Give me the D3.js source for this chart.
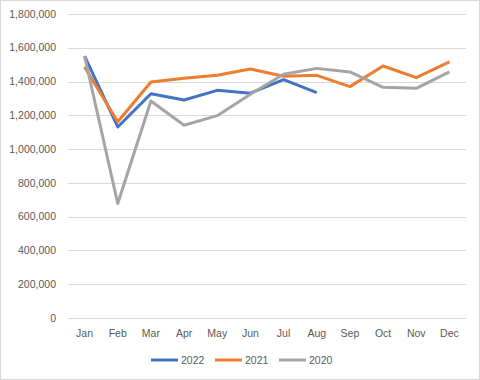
<!DOCTYPE html>
<html><head><meta charset="utf-8">
<script src="https://cdn.jsdelivr.net/npm/d3@7"></script>
<style>body{margin:0;background:#fff}svg{display:block}text{font-family:"Liberation Sans",Arial,sans-serif;fill:#595959}</style>
</head><body><svg id="c" width="480" height="380"></svg>
<script>
const months = ["Jan","Feb","Mar","Apr","May","Jun","Jul","Aug","Sep","Oct","Nov","Dec"];
const s2022 = [1551000,1131000,1328000,1291000,1348000,1331000,1411000,1334000];
const s2021 = [1486000,1162000,1397000,1419000,1437000,1474000,1431000,1437000,1370000,1492000,1423000,1516000];
const s2020 = [1551000,678000,1285000,1141000,1198000,1325000,1443000,1478000,1457000,1366000,1360000,1457000];
const yTicks = [0,200000,400000,600000,800000,1000000,1200000,1400000,1600000,1800000];
const seriesNames = ["2022","2021","2020"];
const colors = ["#4472C4","#ED7D31","#A5A5A5"];

const svg = d3.select("#c");
svg.append("rect").attr("x",0.5).attr("y",0.5).attr("width",479).attr("height",379).attr("fill","#fff").attr("stroke","#D9D9D9");

const x = d3.scaleBand().domain(months).range([68,466]);
const y = d3.scaleLinear().domain([0,1800000]).range([318,14]);

const g = svg.append("g");
g.selectAll("line.grid").data(yTicks).join("line")
  .attr("x1",68).attr("x2",466)
  .attr("y1",d=>Math.round(y(d))+0.5).attr("y2",d=>Math.round(y(d))+0.5)
  .attr("stroke","#D9D9D9").attr("stroke-width",1);

const fmt = d3.format(",");
g.selectAll("text.yl").data(yTicks).join("text")
  .attr("x",56).attr("y",d=>y(d)).attr("dy","0.35em")
  .attr("text-anchor","end").attr("font-size","10.5px").text(d=>fmt(d));

g.selectAll("text.xl").data(months).join("text")
  .attr("x",d=>x(d)+x.bandwidth()/2).attr("y",333).attr("dy","0.35em")
  .attr("text-anchor","middle").attr("font-size","10.5px").text(d=>d);

const line = d3.line().x((d,i)=>x(months[i])+x.bandwidth()/2).y(d=>y(d));
const data = [s2022,s2021,s2020];
[0,1,2].forEach(k=>{
  svg.append("path").datum(data[k]).attr("d",line)
    .attr("fill","none").attr("stroke",colors[k]).attr("stroke-width",3)
    .attr("stroke-linejoin","round").attr("stroke-linecap","butt");
});

const legX = [151,215,279];
seriesNames.forEach((n,i)=>{
  svg.append("line").attr("x1",legX[i]).attr("x2",legX[i]+27).attr("y1",360).attr("y2",360)
    .attr("stroke",colors[i]).attr("stroke-width",3).attr("stroke-linecap","butt");
  svg.append("text").attr("x",legX[i]+30).attr("y",360).attr("dy","0.35em")
    .attr("font-size","10.5px").text(n);
});
</script></body></html>
